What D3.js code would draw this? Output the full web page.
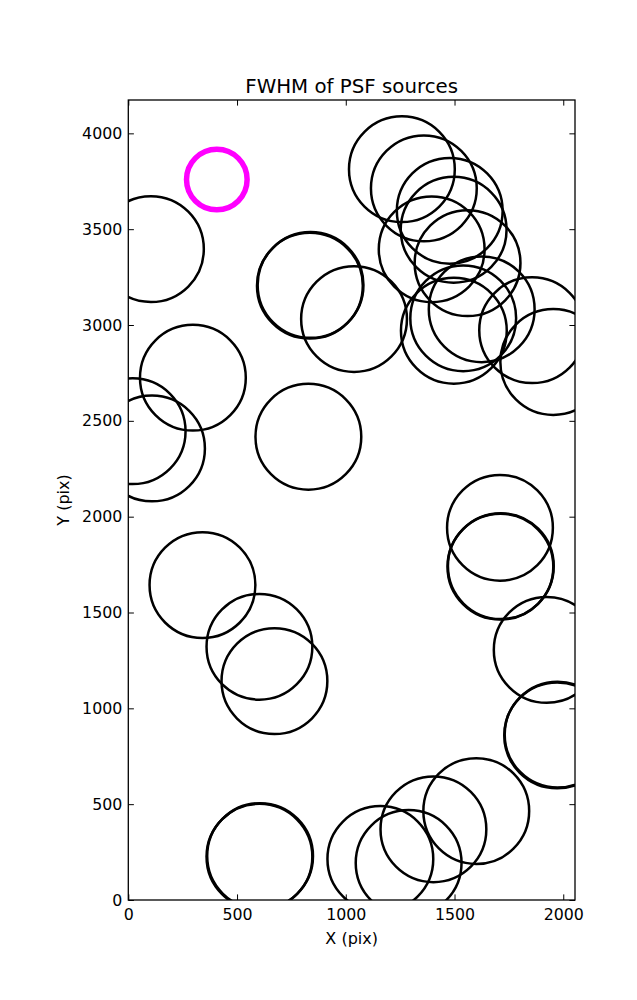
<!DOCTYPE html>
<html>
<head>
<meta charset="utf-8">
<script src="https://cdn.jsdelivr.net/npm/d3@7"></script>
<style>
  html, body { margin: 0; padding: 0; background: #fff; }
  svg { display: block; }
  text { font-family: "DejaVu Sans", sans-serif; fill: #000; }
</style>
</head>
<body>
<script>
// ---- data (pixel coordinates on the detector) ----
const sourceX = [104, 835, 838, 1038, 297, 20, 109, 828, 341, 603, 672,
  603, 606, 1159, 1289, 1403, 1600, 1709, 1711, 1713, 1924, 1972, 1974,
  1258, 1359, 1478, 1496, 1395, 1560, 1625, 1540, 1497, 1857, 1954];
const sourceY = [3396, 3205, 3209, 3031, 2725, 2446, 2356, 2417, 1643, 1321, 1142,
  226, 229, 214, 193, 369, 464, 1942, 1739, 1742, 1305, 859, 863,
  3813, 3713, 3596, 3497, 3395, 3323, 3082, 3035, 2970, 2973, 2807];
const highlightX = [407];
const highlightY = [3759];
const xTicks = [0, 500, 1000, 1500, 2000];
const yTicks = [0, 500, 1000, 1500, 2000, 2500, 3000, 3500, 4000];
const xDomain = [0, 2054];
const yDomain = [0, 4174];
const titleText = "FWHM of PSF sources";
const xLabel = "X (pix)";
const yLabel = "Y (pix)";

// ---- layout ----
const W = 637, H = 1000;
const L = 128.3, R = 575, T = 100, B = 900;

const svg = d3.select("body").append("svg").attr("width", W).attr("height", H);

const x = d3.scaleLinear().domain(xDomain).range([L, R]);
const y = d3.scaleLinear().domain(yDomain).range([B, T]);

svg.append("defs").append("clipPath").attr("id", "clip")
  .append("rect").attr("x", L).attr("y", T).attr("width", R - L).attr("height", B - T);

const plot = svg.append("g").attr("clip-path", "url(#clip)");

const src = d3.range(sourceX.length).map(i => ({x: sourceX[i], y: sourceY[i]}));
plot.selectAll("circle.src").data(src).join("circle")
  .attr("class", "src")
  .attr("cx", d => x(d.x)).attr("cy", d => y(d.y))
  .attr("r", 52.9)
  .attr("fill", "none").attr("stroke", "#000").attr("stroke-width", 2.5);

const hl = d3.range(highlightX.length).map(i => ({x: highlightX[i], y: highlightY[i]}));
plot.selectAll("circle.hl").data(hl).join("circle")
  .attr("class", "hl")
  .attr("cx", d => x(d.x)).attr("cy", d => y(d.y))
  .attr("r", 30.3)
  .attr("fill", "none").attr("stroke", "#ff00ff").attr("stroke-width", 5.5);

// axes (classic matplotlib style: inward ticks on all sides)
const tl = 5.6, fs = 15.8;
const gx = svg.append("g").attr("transform", `translate(0,${B})`)
  .call(d3.axisBottom(x).tickValues(xTicks).tickSizeInner(-tl).tickSizeOuter(0).tickPadding(9).tickFormat(d3.format("d")));
const gxt = svg.append("g").attr("transform", `translate(0,${T})`)
  .call(d3.axisTop(x).tickValues(xTicks).tickSizeInner(-tl).tickSizeOuter(0).tickFormat(""));
const gy = svg.append("g").attr("transform", `translate(${L},0)`)
  .call(d3.axisLeft(y).tickValues(yTicks).tickSizeInner(-tl).tickSizeOuter(0).tickPadding(6).tickFormat(d3.format("d")));
const gyr = svg.append("g").attr("transform", `translate(${R},0)`)
  .call(d3.axisRight(y).tickValues(yTicks).tickSizeInner(-tl).tickSizeOuter(0).tickFormat(""));

[gx, gxt, gy, gyr].forEach(g => {
  g.select(".domain").remove();
  g.selectAll(".tick line").attr("stroke", "#000").attr("stroke-width", 1);
  g.selectAll(".tick text").attr("font-family", "DejaVu Sans").attr("font-size", fs).attr("fill", "#000");
});

svg.append("rect").attr("x", L).attr("y", T).attr("width", R - L).attr("height", B - T)
  .attr("fill", "none").attr("stroke", "#000").attr("stroke-width", 1.3);

svg.append("text").attr("x", (L + R) / 2).attr("y", 93).attr("text-anchor", "middle")
  .attr("font-size", 19.8).text(titleText);
svg.append("text").attr("x", (L + R) / 2).attr("y", 944).attr("text-anchor", "middle")
  .attr("font-size", 16).text(xLabel);
svg.append("text").attr("transform", `translate(69,${(T + B) / 2}) rotate(-90)`)
  .attr("text-anchor", "middle").attr("font-size", 16).text(yLabel);
</script>
</body>
</html>
